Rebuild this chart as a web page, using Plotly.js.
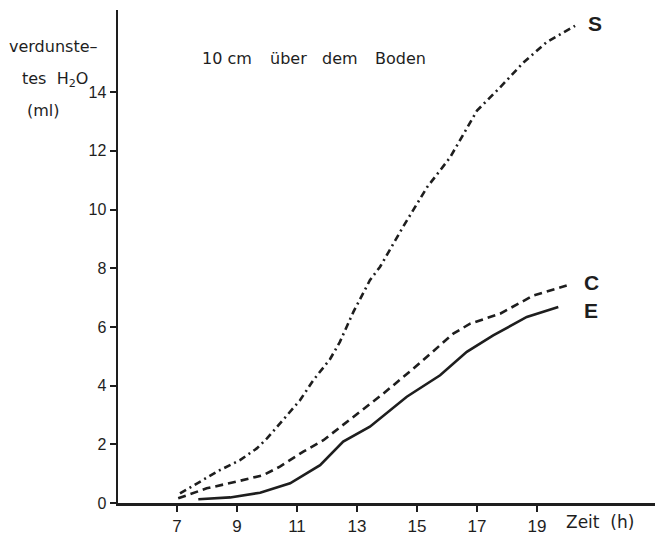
<!DOCTYPE html>
<html>
<head>
<meta charset="utf-8">
<script src="https://cdn.plot.ly/plotly-3.0.1.min.js"></script>
<style>html,body{margin:0;padding:0;background:#fff;}#chart{width:658px;height:538px;}</style>
</head>
<body>
<div id="chart"></div>
<script>
// Data (hours, ml evaporated)
const sHours  = [7.1, 8.43, 9.1, 9.66, 10.0, 10.54, 11.1, 11.54, 12.1, 12.43, 12.88, 13.43, 13.77, 14.53, 15.33, 16.1, 17.0, 17.77, 18.54, 19.32, 20.27];
const sValues = [0.33, 1.12, 1.46, 1.86, 2.2, 2.82, 3.5, 4.18, 4.9, 5.49, 6.51, 7.59, 8.05, 9.4, 10.75, 11.77, 13.37, 14.16, 15.0, 15.7, 16.26];

const cHours  = [7.04, 7.99, 8.99, 9.88, 10.43, 11.21, 11.88, 12.66, 13.32, 13.88, 14.88, 16.21, 16.77, 17.77, 18.88, 19.99];
const cValues = [0.16, 0.5, 0.73, 0.95, 1.24, 1.75, 2.14, 2.77, 3.28, 3.73, 4.58, 5.77, 6.11, 6.45, 7.07, 7.41];

const eHours  = [7.71, 8.77, 9.77, 10.77, 11.77, 12.54, 13.43, 14.66, 15.77, 16.66, 17.54, 18.66, 19.71];
const eValues = [0.13, 0.19, 0.35, 0.67, 1.29, 2.09, 2.6, 3.62, 4.35, 5.15, 5.71, 6.34, 6.68];

const xTicks = [7, 9, 11, 13, 15, 17, 19];
const yTicks = [0, 2, 4, 6, 8, 10, 12, 14];
const seriesNames = ["S", "C", "E"];
const headingWords = ["10 cm", "über", "dem", "Boden"];

const ink = "#1e1e1e";
const W = 658, H = 538;
const L = 118, R = 3, T = 10, B = 35;
const pw = W - L - R, ph = H - T - B;
function px(x) { return (x - L) / pw; }
function py(y) { return (H - B - y) / ph; }
const textFont = {family: "DejaVu Sans, Liberation Sans, sans-serif", size: 16, color: ink};
const tickFont = {family: "Liberation Sans, Arial, sans-serif", size: 16, color: ink};
const labelFont = {family: "Liberation Sans, Arial, sans-serif", size: 21, color: ink, weight: "bold"};

const traces = [
  {x: sHours, y: sValues, name: seriesNames[0], mode: "lines",
   line: {color: ink, width: 2.6, dash: "7px,4px,2px,4px"}},
  {x: cHours, y: cValues, name: seriesNames[1], mode: "lines",
   line: {color: ink, width: 2.6, dash: "8px,5px"}},
  {x: eHours, y: eValues, name: seriesNames[2], mode: "lines",
   line: {color: ink, width: 2.6}}
];

const headingLeft = [200, 268, 320, 373];
const annotations = [
  {text: "verdunste–", x: px(7), y: py(46), xanchor: "left"},
  {text: "tes  H<sub>2</sub>O", x: px(20), y: py(79), xanchor: "left"},
  {text: "(ml)", x: px(25), y: py(110), xanchor: "left"},
  ...headingWords.map((w, i) => ({text: w, x: px(headingLeft[i]), y: py(58), xanchor: "left"})),
  {text: seriesNames[0], x: px(595), y: py(24), xanchor: "center", font: labelFont},
  {text: seriesNames[1], x: px(591), y: py(295.5), xanchor: "center", yanchor: "bottom", font: labelFont},
  {text: seriesNames[2], x: px(591), y: py(296.5), xanchor: "center", yanchor: "top", font: labelFont},
  {text: "Zeit  (h)", x: px(564), y: py(522), xanchor: "left", font: Object.assign({}, textFont, {size: 17})}
].map(a => Object.assign({xref: "paper", yref: "paper", showarrow: false, yanchor: "middle", font: textFont}, a));

const layout = {
  width: W, height: H,
  margin: {l: L, r: R, t: T, b: B, pad: 0},
  paper_bgcolor: "#fff", plot_bgcolor: "#fff",
  showlegend: false,
  font: textFont,
  xaxis: {
    range: [7 - (177 - L) / 30, 7 + (W - R - 177) / 30],
    tickvals: xTicks, ticktext: xTicks.map(String),
    ticks: "outside", ticklen: 6, tickwidth: 2, tickcolor: ink,
    showline: true, linecolor: ink, linewidth: 2.5,
    showgrid: false, zeroline: false,
    tickfont: Object.assign({}, tickFont, {size: 17})
  },
  yaxis: {
    range: [0, ph / 29.35],
    tickvals: yTicks, ticktext: yTicks.map(String),
    ticks: "outside", ticklen: 6, tickwidth: 2, tickcolor: ink,
    showline: true, linecolor: ink, linewidth: 2.5,
    showgrid: false, zeroline: false,
    tickfont: tickFont
  },
  annotations: annotations
};

Plotly.newPlot("chart", traces, layout, {displayModeBar: false, staticPlot: true});
</script>
</body>
</html>
